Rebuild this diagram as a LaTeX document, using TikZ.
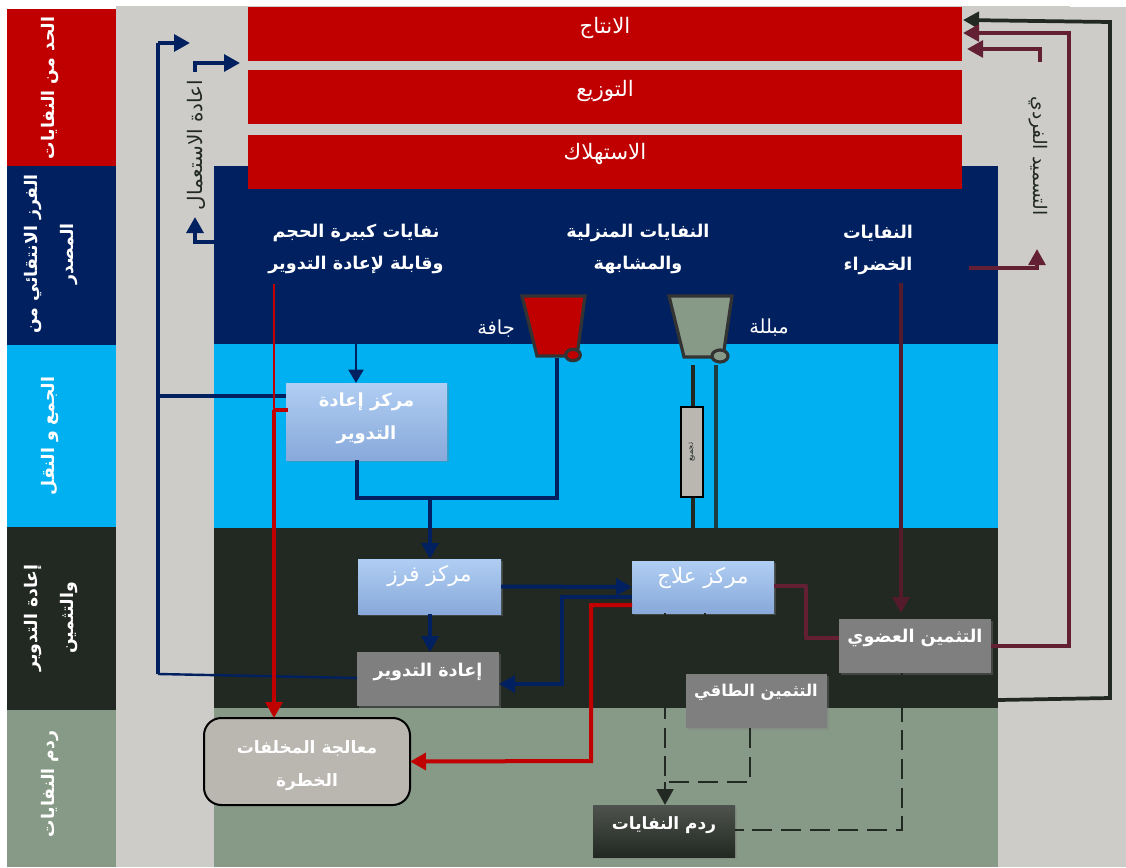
\documentclass[tikz,border=0pt]{standalone}
\usepackage{fontspec}
\usetikzlibrary{arrows.meta,shadows,calc,shapes.geometric}
\TeXXeTstate=1
\newfontfamily\arabicfont[Script=Arabic]{DejaVu Sans}
\newcommand{\rtl}[1]{\beginR #1\endR}
\definecolor{cRed}{HTML}{C00000}
\definecolor{cNavy}{HTML}{002060}
\definecolor{cSky}{HTML}{00B0F0}
\definecolor{cDark}{HTML}{222822}
\definecolor{cSage}{HTML}{879A87}
\definecolor{cBack}{HTML}{CDCCC8}
\definecolor{cPlum}{HTML}{632035}
\definecolor{cStone}{HTML}{BAB7B0}
\definecolor{cGrayBox}{HTML}{7F7F7F}
\definecolor{cTopB}{HTML}{B0CEF3}
\definecolor{cBotB}{HTML}{88A9DA}
\tikzset{
  band/.style={draw=none,rectangle,inner sep=0pt,outer sep=0pt},
  txt/.style={font=\arabicfont\fontsize{16}{20}\selectfont,text=white,align=center,inner sep=0pt},
  txts/.style={font=\arabicfont\fontsize{14.5}{18}\selectfont,text=white,align=center,inner sep=0pt},
  txtb/.style={font=\arabicfont\bfseries\fontsize{13.2}{24}\selectfont,text=white,align=center,inner sep=0pt},
  side/.style={font=\arabicfont\bfseries\fontsize{13}{27}\selectfont,text=white,align=center,inner sep=0pt,rotate=90},
  sidedark/.style={font=\arabicfont\fontsize{14.5}{18}\selectfont,text=cDark,align=center,inner sep=0pt},
  softshadow/.style={drop shadow={shadow xshift=1.2pt,shadow yshift=-1.6pt,opacity=.35}},
  centre/.style={rectangle,inner sep=0pt,outer sep=0pt,top color=cTopB,middle color=cTopB,bottom color=cBotB,softshadow},
  graybox/.style={rectangle,inner sep=0pt,outer sep=0pt,fill=cGrayBox,softshadow},
  headA/.style={-{Triangle[length=12pt,width=12.5pt]}},
  navyln/.style={draw=cNavy,line width=3pt,headA},
  navyflat/.style={draw=cNavy,line width=3pt},
  thinnavy/.style={draw=cNavy,line width=2.5pt},
  plumln/.style={draw=cPlum,line width=2.8pt},
  redln/.style={draw=cRed,line width=3pt},
  darkln/.style={draw=cDark,line width=2.8pt},
  dashln/.style={draw=cDark,line width=2.2pt,dash pattern=on 15pt off 6.5pt},
  bin/.style={draw=black!80,line width=2.4pt,line join=miter},
}
\begin{document}
\begin{tikzpicture}[x=0.75pt,y=-0.75pt]
\useasboundingbox (0,0) rectangle (1126,867);
% background
\fill[cBack] (116,6) rectangle (1126,867);
\fill[white] (1070,0) rectangle (1126,7);
% left column
\fill[cRed] (7,9) rectangle (116,166);
\fill[cNavy] (7,166) rectangle (116,345);
\fill[cSky] (7,345) rectangle (116,527);
\fill[cDark] (7,527) rectangle (116,710);
\fill[cSage] (7,710) rectangle (116,867);
% main panel
\fill[cNavy] (214,166) rectangle (998,344);
\fill[cSky] (214,344) rectangle (998,528);
\fill[cDark] (214,528) rectangle (998,708);
\fill[cSage] (214,708) rectangle (998,867);
% side labels
\node[side] (sideA) at (50,88) {\rtl{الحد من النفايات}};
\node[side] (sideB) at (51,254) {\rtl{الفرز الانتقائي من}\\\rtl{المصدر}};
\node[side] (sideC) at (50,436) {\rtl{الجمع و النقل}};
\node[side] (sideD) at (51,618) {\rtl{إعادة التدوير}\\\rtl{والتثمين}};
\node[side] (sideE) at (50,784) {\rtl{ردم النفايات}};
% top bars
\node[band,fill=cRed,minimum width=535.5pt,minimum height=40.5pt] (prod) at (605,34) {};
\node[band,fill=cRed,minimum width=535.5pt,minimum height=40.5pt] (dist) at (605,97) {};
\node[band,fill=cRed,minimum width=535.5pt,minimum height=40.5pt] (cons) at (605,162) {};
\node[txt] (prodT) at (605,28) {\rtl{الانتاج}};
\node[txt] (distT) at (605,91) {\rtl{التوزيع}};
\node[txt] (consT) at (605,154) {\rtl{الاستهلاك}};
% waste headers
\node[txtb] (bulky) at (356,249) {\rtl{نفايات كبيرة الحجم}\\\rtl{وقابلة لإعادة التدوير}};
\node[txtb] (house) at (638,249) {\rtl{النفايات المنزلية}\\\rtl{والمشابهة}};
\node[txtb] (green) at (878,250) {\rtl{النفايات}\\\rtl{الخضراء}};
\node[txts] (dryT) at (496,329) {\rtl{جافة}};
\node[txts] (wetT) at (769,328) {\rtl{مبللة}};
% rotated labels
\node[sidedark,font=\arabicfont\fontsize{15}{18}\selectfont,rotate=90] (reuse) at (196,145) {\rtl{اعادة الاستعمال}};
\node[sidedark,font=\arabicfont\fontsize{14}{18}\selectfont,rotate=-90] (compost) at (1038,156) {\rtl{التسميد الفردي}};
% boxes
\node[centre,minimum width=120.75pt,minimum height=57.75pt] (recycleC) at (366.5,421.5) {};
\node[txtb,font=\arabicfont\bfseries\fontsize{13.5}{25}\selectfont] (recycleT) at (366.5,418.5) {\rtl{مركز إعادة}\\\rtl{التدوير}};
\node[centre,minimum width=107.25pt,minimum height=41.25pt] (sortC) at (429.5,586.5) {};
\node[txt] (sortT) at (429.5,576) {\rtl{مركز فرز}};
\node[centre,minimum width=106.5pt,minimum height=39pt] (treatC) at (703,587) {};
\node[txt] (treatT) at (703,578) {\rtl{مركز علاج}};
\node[graybox,minimum width=106.5pt,minimum height=40.5pt] (recy) at (428,679) {};
\node[txtb] (recyT) at (428,672) {\rtl{إعادة التدوير}};
\node[graybox,minimum width=114pt,minimum height=40.5pt] (orga) at (915,646) {};
\node[txtb] (orgaT) at (915,638) {\rtl{التثمين العضوي}};
\node[graybox,minimum width=105.75pt,minimum height=40.5pt] (ener) at (756.5,701) {};
\node[txtb,font=\arabicfont\bfseries\fontsize{12.2}{24}\selectfont] (enerT) at (756,692) {\rtl{التثمين الطاقي}};
\node[rectangle,inner sep=0pt,outer sep=0pt,minimum width=106.5pt,minimum height=39pt,top color=cDark!80!white,middle color=cDark,bottom color=cDark,softshadow] (land) at (664,831) {};
\node[txtb,font=\arabicfont\bfseries\fontsize{12.7}{24}\selectfont] (landT) at (664,825) {\rtl{ردم النفايات}};
\node[rectangle,rounded corners=13pt,draw=black,line width=1.5pt,fill=cStone,inner sep=0pt,outer sep=0pt,minimum width=154.5pt,minimum height=65.25pt] (haz) at (307,761.5) {};
\node[txtb,font=\arabicfont\bfseries\fontsize{12.8}{25}\selectfont] (hazT) at (307,765.5) {\rtl{معالجة المخلفات}\\\rtl{الخطرة}};
% bins
\coordinate (dryBase) at (557,358);
\draw[bin,fill=cRed] (522,296) -- (585,296) -- (577,356) -- (537,356) -- cycle;
\node[ellipse,draw=black!80,line width=2.4pt,fill=cRed,minimum width=11pt,minimum height=8.5pt,inner sep=0pt] (dryW) at (573,355) {};
\draw[bin,fill=cSage] (669,296) -- (732,296) -- (723,357) -- (684,357) -- cycle;
\node[ellipse,draw=black!80,line width=2.4pt,fill=cSage,minimum width=12pt,minimum height=9pt,inner sep=0pt] (wetW) at (720,356) {};
% wet waste lines
\coordinate (wetA) at (693,365); \coordinate (wetB) at (716,365);
\coordinate (wetA2) at (693,528); \coordinate (wetB2) at (716,528);
\draw[darkln] (wetA) -- (wetA2);
\draw[darkln,draw=cDark!85!cSky] (wetB) -- (wetB2);
\node[rectangle,draw=black,line width=1.8pt,fill=cStone,inner sep=0pt,outer sep=0pt,minimum width=16.5pt,minimum height=67.5pt,font=\arabicfont\fontsize{6}{6}\selectfont,text=cDark] (collect) at (692,452) {\rotatebox{90}{\rtl{تجميع}}};
% reuse / return arrows
\coordinate (retA) at (158,674); \coordinate (retB) at (158,43); \coordinate (retTip) at (190,43);
\coordinate (retMid) at (158,396); \coordinate (retRec) at (286,396);
\coordinate (recyW) at (357,678);
\draw[draw=cNavy,line width=1.8pt] (recyW) -- (retA);
\draw[draw=cNavy,line width=2.3pt] (retA) -- (retMid);
\draw[thinnavy] (retMid) -- (retB);
\draw[navyflat,headA] (retB) -- (retTip);
\draw[thinnavy] (retRec) -- (retMid);
\coordinate (ruA) at (195,72); \coordinate (ruB) at (195,63); \coordinate (ruTip) at (240,63);
\draw[navyflat,headA] (ruA) -- (ruB) -- (ruTip);
\coordinate (rvA) at (214,242); \coordinate (rvB) at (195,242); \coordinate (rvTip) at (195,217);
\draw[navyflat,headA] (rvA) -- (rvB) -- (rvTip);
% right returns
\coordinate (dkA) at (998,700); \coordinate (dkB) at (1110,698); \coordinate (dkC) at (1110,22); \coordinate (dkTip) at (963,20);
\draw[darkln,headA] (dkA) -- (dkB) -- (dkC) -- (dkTip);
\coordinate (plA) at (1069,646); \coordinate (plB) at (1069,33); \coordinate (plTip) at (963,33);
\draw[plumln,headA] (orga.east) -- (plA) -- (plB) -- (plTip);
\coordinate (pmA) at (1040,62); \coordinate (pmB) at (1040,49); \coordinate (pmTip) at (967,49);
\draw[plumln,headA] (pmA) -- (pmB) -- (pmTip);
\coordinate (pnA) at (969,268); \coordinate (pnB) at (1037,268); \coordinate (pnTip) at (1037,249);
\draw[plumln,headA] (pnA) -- (pnB) -- (pnTip);
% green waste
\coordinate (grA) at (901,283);
\coordinate (grTip) at (901,613);
\draw[plumln,draw=cPlum!85!black,headA] (grA) -- (grTip);
% recycling centre links
\coordinate (bulkA) at (356,344); \coordinate (recN) at (356,383);
\draw[navyflat,line width=2.2pt,-{Triangle[length=10pt,width=11pt]}] (bulkA) -- (recN);
\coordinate (recS) at (357,460); \coordinate (jL) at (357,498); \coordinate (jR) at (557,498); \coordinate (jM) at (430,498);
\draw[navyflat] (recS) -- (jL) -- (jR) -- (dryBase);
\draw[navyln] (jM) -- (sortC.north -| jM);
\draw[navyln] (sortC.east) -- (treatC.west);
\draw[navyln] (sortC.south -| jM) -- (recy.north -| jM);
\coordinate (tA) at (632,597); \coordinate (tB) at (562,597); \coordinate (tC) at (562,684); \coordinate (tD) at (499,684);
\draw[navyln] (tA) -- (tB) -- (tC) -- (tD);
% red
\coordinate (rdA) at (274,284); \coordinate (rdTip) at (274,718); \coordinate (rdS) at (274,410); \coordinate (rdT) at (288,410);
\draw[redln,line width=2pt] (rdA) -- (rdS);
\draw[redln,line width=3.4pt,-{Triangle[length=12pt,width=12.5pt]}] (rdS) -- (rdTip);
\draw[redln] (rdS) -- (rdT);
\coordinate (rrA) at (632,605); \coordinate (rrB) at (591,605); \coordinate (rrC) at (591,761);
\draw[redln,headA] (rrA) -- (rrB) -- (rrC) -- (haz.east);
% plum to organic
\coordinate (poA) at (806,586); \coordinate (poB) at (806,638); \coordinate (poC) at (839,638); \coordinate (poS) at (774,586);
\draw[plumln,line width=3.4pt,line join=round] (poS) -- (poA) -- (poB) -- (poC);
% dashed
\coordinate (daA) at (665,613); \coordinate (daB) at (665,782); \coordinate (daTip) at (665,805);
\draw[dashln] (daA) -- (daB);
\draw[draw=cDark,line width=2.2pt,headA] (daB) -- (daTip);
\coordinate (deA) at (750,728); \coordinate (deB) at (750,782); \coordinate (deC) at (665,782);
\draw[dashln] (deA) -- (deB) -- (deC);
\coordinate (doA) at (902,673); \coordinate (doB) at (902,830); \coordinate (doC) at (735,830);
\draw[dashln] (doA) -- (doB) -- (doC);
\coordinate (dfA) at (705,613); \coordinate (dfB) at (705,674);
\draw[dashln] (dfA) -- (dfB);
\end{tikzpicture}
\end{document}
